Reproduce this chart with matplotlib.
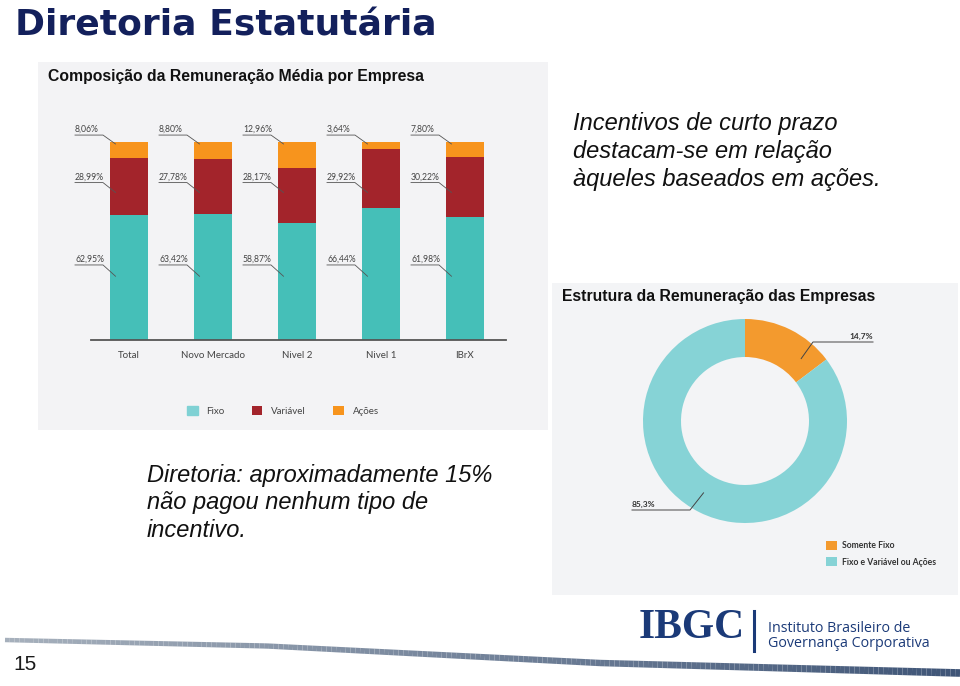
import matplotlib
matplotlib.use('Agg')
import matplotlib.pyplot as plt
import numpy as np
from matplotlib.collections import LineCollection
from matplotlib.colors import LinearSegmentedColormap

# Data
categories = ['Total', 'Novo Mercado', 'Nivel 2', 'Nivel 1', 'IBrX']
fixo = [62.95, 63.42, 58.87, 66.44, 61.98]
variavel = [28.99, 27.78, 28.17, 29.92, 30.22]
acoes = [8.06, 8.80, 12.96, 3.64, 7.80]
series_names = ['Fixo', 'Variável', 'Ações']

donut_labels = ['Somente Fixo', 'Fixo e Variável ou Ações']
donut_values = [14.7, 85.3]

W, H = 960, 686
fig = plt.figure(figsize=(9.6, 6.86), dpi=100)
fig.patch.set_facecolor('white')


def fx(px):
    return px / W


def fy(py):
    return 1 - py / H


navy = '#13205c'
logo_blue = '#1b3a78'

# Slide title
fig.text(fx(15), fy(35), 'Diretoria Estatutária', fontsize=26, weight='bold',
         color=navy, family='DejaVu Sans', va='baseline')

# ---- stacked bar chart ----
ax = fig.add_axes([fx(38), fy(430), 510 / W, 368 / H])
ax.set_facecolor('#f3f3f5')
px_x = 84.0   # pixels per category
px_y = 1.98   # pixels per percent
ax.set_xlim((38 - 129) / px_x, (548 - 129) / px_x)
ax.set_ylim(-(430 - 340) / px_y, (340 - 62) / px_y)
for s in ax.spines.values():
    s.set_visible(False)
ax.set_xticks([])
ax.set_yticks([])

x = np.arange(len(categories))
w = 0.464
colors = ['#45bfb8', '#a3242b', '#f7941d']
b1 = ax.bar(x, fixo, w, color=colors[0], label=series_names[0])
b2 = ax.bar(x, variavel, w, bottom=fixo, color=colors[1], label=series_names[1])
b3 = ax.bar(x, acoes, w, bottom=np.add(fixo, variavel), color=colors[2], label=series_names[2])

ax.plot([-38 / px_x, 4 + 41 / px_x], [0, 0], color='#555555', lw=1.3)
for i, c in enumerate(categories):
    ax.text(i, -16 / px_y, c, ha='center', va='center', fontsize=7,
            color='#444444', family='Lato')

# leader lines: (underline height, end height) per series
leader_pos = [(37.9, 32.2), (79.5, 74.5), (103.5, 99.0)]
for vals, (uy, ey) in zip([fixo, variavel, acoes], leader_pos):
    for i, v in enumerate(vals):
        xl = i - 54 / px_x
        xu = i - 26 / px_x
        xe = i - w / 2 + 6 / px_x
        ax.plot([xl, xu, xe], [uy, uy, ey], color='#555555', lw=0.6)
        ax.text(xl, uy + 1.2 / px_y, f'{v:.2f}%'.replace('.', ','), ha='left',
                va='bottom', fontsize=6.2, color='#444444', family='Lato')

leg = ax.legend(handles=[b1, b2, b3], loc='center', bbox_to_anchor=(0.48, 0.052),
                ncol=3, frameon=False, prop=dict(family='Lato', size=7),
                handlelength=1.1, handleheight=1.1, columnspacing=2.8,
                handletextpad=0.9, labelcolor='#444444')
leg.legend_handles[0].set_color('#7fd1d4')

fig.text(fx(48), fy(77), 'Composição da Remuneração Média por Empresa', fontsize=11.3,
         weight='bold', color='#111111', family='Liberation Sans', va='center')

# ---- donut chart ----
ax2 = fig.add_axes([fx(552), fy(595), 406 / W, 312 / H])
cx, cy, R = 745, H - 421, 102
wedges, _ = ax2.pie(donut_values, colors=['#f39a2e', '#86d3d6'], startangle=90,
                    counterclock=False, radius=R, center=(cx, cy),
                    wedgeprops=dict(width=38, edgecolor='none'))
ax2.set_frame_on(True)
ax2.set_facecolor('#f3f4f6')
for s in ax2.spines.values():
    s.set_visible(False)
ax2.set_xlim(552, 958)
ax2.set_ylim(H - 595, H - 283)
ax2.set_xticks([])
ax2.set_yticks([])

# donut leader lines: angle/radius of end, underline y, underline x-range, text side
donut_leaders = [(48, 84, H - 342, (813, 873), 'right'),
                 (240, 83, H - 510, (632, 690), 'left')]
for v, (ang, r, uy, (x0, x1), side) in zip(donut_values, donut_leaders):
    ex = cx + r * np.cos(np.radians(ang))
    ey = cy + r * np.sin(np.radians(ang))
    if side == 'right':
        ax2.plot([x1, x0, ex], [uy, uy, ey], color='#444444', lw=0.7)
        ax2.text(x1, uy + 2, f'{v:.1f}%'.replace('.', ','), ha='right', va='bottom',
                 fontsize=6, weight='bold', color='#333333', family='Lato')
    else:
        ax2.plot([x0, x1, ex], [uy, uy, ey], color='#444444', lw=0.7)
        ax2.text(x0, uy + 2, f'{v:.1f}%'.replace('.', ','), ha='left', va='bottom',
                 fontsize=6, weight='bold', color='#333333', family='Lato')

ax2.legend(wedges, donut_labels, loc='upper left',
           bbox_to_anchor=((818 - 552) / 406, (595 - 533) / 312), frameon=False,
           prop=dict(family='Lato', weight='bold', size=6.2), handlelength=1.25,
           handleheight=1.25, labelspacing=0.8, handletextpad=0.6, labelcolor='#333333')

fig.text(fx(562), fy(296), 'Estrutura da Remuneração das Empresas', fontsize=11.3,
         weight='bold', color='#111111', family='Liberation Sans', va='center')

# ---- slide texts ----
right_lines = ['Incentivos de curto prazo', 'destacam-se em relação',
               'àqueles baseados em ações.']
for k, line in enumerate(right_lines):
    fig.text(fx(573), fy(130 + 28 * k), line, fontsize=17, style='italic',
             color='#111111', family='Liberation Sans', va='baseline')

left_lines = ['Diretoria: aproximadamente 15%', 'não pagou nenhum tipo de',
              'incentivo.']
for k, line in enumerate(left_lines):
    fig.text(fx(147), fy(482 + 27.5 * k), line, fontsize=17, style='italic',
             color='#111111', family='Liberation Sans', va='baseline')

# ---- footer ----
ov = fig.add_axes([0, 0, 1, 1], zorder=-1)
ov.set_xlim(0, W)
ov.set_ylim(H, 0)
ov.axis('off')
ctrl_x = [5, 267, 600, 960]
ctrl_y = [640, 646, 663, 673]
xs = np.linspace(5, 960, 200)
ys = np.interp(xs, ctrl_x, ctrl_y)
pts = np.column_stack([xs, ys]).reshape(-1, 1, 2)
segs = np.concatenate([pts[:-1], pts[1:]], axis=1)
cmap = LinearSegmentedColormap.from_list('footer', ['#a6b0bc', '#3f5577'])
lc = LineCollection(segs, cmap=cmap, linewidths=np.linspace(3.2, 5.5, len(segs)),
                    capstyle='butt')
lc.set_array(np.linspace(0, 1, len(segs)))
ov.add_collection(lc)

fig.text(fx(13), fy(670), '15', fontsize=15, color='#1a1a1a',
         family='Liberation Sans', va='baseline')

fig.text(fx(639), fy(638), 'IBGC', fontsize=30, weight='bold', color=logo_blue,
         family='Liberation Serif', va='baseline')
ov.plot([754, 754], [611, 651], color=logo_blue, lw=2.2)
fig.text(fx(768), fy(632), 'Instituto Brasileiro de', fontsize=10.3, color=logo_blue,
         family='Open Sans', va='baseline')
fig.text(fx(768), fy(647), 'Governança Corporativa', fontsize=10.3, color=logo_blue,
         family='Open Sans', va='baseline')

fig.savefig('out.png', dpi=100, facecolor='white')
